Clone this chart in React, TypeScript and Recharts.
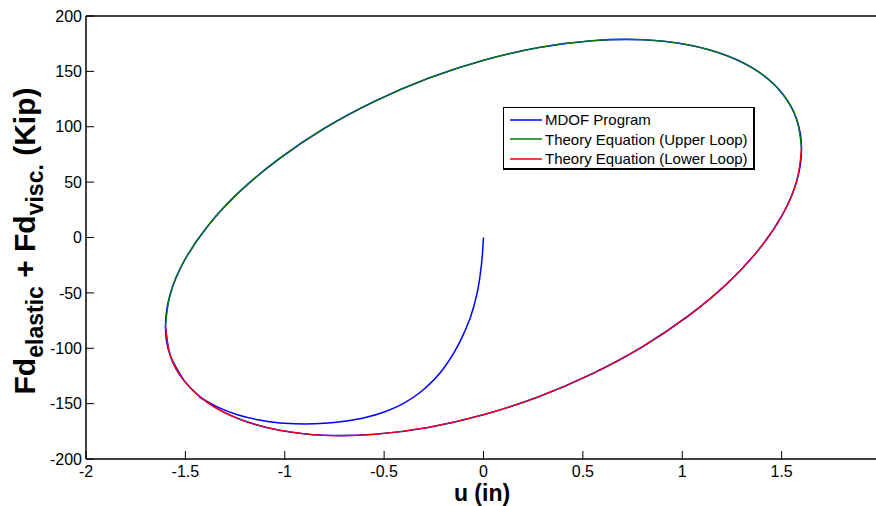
import React from "react";
import { LineChart, Line, XAxis, YAxis, Customized } from "recharts";

// displacement u (in) and force (kip)
const loopU = [-1.6, -1.576, -1.504, -1.386, -1.226, -1.028, -0.8, -0.547, -0.278, 0, 0.278, 0.547, 0.8, 1.028, 1.226, 1.386, 1.504, 1.576, 1.6];
const upperF = [-80, -51.0, -20.5, 10.7, 41.6, 71.1, 98.6, 123.0, 143.7, 160, 171.5, 177.7, 178.6, 174.0, 164.1, 149.3, 129.9, 106.6, 80];
const lowerF = [-80, -106.6, -129.9, -149.3, -164.1, -174.0, -178.6, -177.7, -171.5, -160, -143.7, -123.0, -98.6, -71.1, -41.6, -10.7, 20.5, 51.0, 80];

// start-up part of the MDOF program response (from the loop back to the origin)
const startU = [-1.43, -1.34, -1.23, -1.12, -1.0, -0.9, -0.8, -0.7, -0.6, -0.5, -0.4, -0.3, -0.2, -0.15, -0.1, -0.05, -0.02, -0.005, 0];
const startF = [-144, -153, -160.5, -165, -167.8, -168.3, -167.8, -166, -162.8, -157.5, -149.5, -137, -118, -104.5, -87, -63, -38, -14, 0];

const xTicks = [-2, -1.5, -1, -0.5, 0, 0.5, 1, 1.5, 2];
const yTicks = [-200, -150, -100, -50, 0, 50, 100, 150, 200];

const upperData = loopU.map((u, i) => ({ u, f: upperF[i] }));
const lowerData = loopU.map((u, i) => ({ u, f: lowerF[i] }));
const mdofStart = startU.map((u, i) => ({ u, f: startF[i] }));
const mdofLoop = [
  ...lowerData.slice(0, 3).reverse(),
  ...upperData.slice(1),
  ...lowerData.slice(0, -1).reverse(),
];

const FONT = "'Liberation Sans', Arial, Helvetica, sans-serif";
const tickStyle = { fill: "#000", fontSize: 16, fontFamily: FONT };

const legendItems = [
  { name: "MDOF Program", color: "#0000ff" },
  { name: "Theory Equation (Upper Loop)", color: "#008000" },
  { name: "Theory Equation (Lower Loop)", color: "#ff0000" },
];

function LegendBox() {
  return (
    <div
      style={{
        position: "absolute",
        left: 503,
        top: 107,
        width: 252,
        height: 63,
        border: "1px solid #000",
        borderRightWidth: 2,
        borderBottomWidth: 2,
        background: "#fff",
        padding: "2px 0 0 5px",
        fontFamily: FONT,
        fontSize: 15,
        color: "#000",
        boxSizing: "border-box",
        whiteSpace: "nowrap",
      }}
    >
      {legendItems.map((it) => (
        <div key={it.name} style={{ display: "flex", alignItems: "center", height: 19.5 }}>
          <svg width={36} height={10}>
            <line x1={1} y1={5} x2={33} y2={5} stroke={it.color} strokeWidth={1.5} />
          </svg>
          <span>{it.name}</span>
        </div>
      ))}
    </div>
  );
}

function AxisLabels() {
  return (
    <g fontFamily={FONT} fontWeight="bold" fill="#000">
      <text x={482} y={501} fontSize={23} textAnchor="middle">
        u (in)
      </text>
      <text x={35} y={241} fontSize={30} textAnchor="middle" transform="rotate(-90, 35, 241)">
        Fd
        <tspan fontSize={23} dy={8}>elastic</tspan>
        <tspan dy={-8}> + Fd</tspan>
        <tspan fontSize={23} dy={8}>visc.</tspan>
        <tspan dy={-8}> (Kip)</tspan>
      </text>
    </g>
  );
}

const axisLine = { stroke: "#000", strokeWidth: 1.5 };
const tickLine = { stroke: "#000" };

export default function App() {
  return (
    <div style={{ position: "absolute", left: 0, top: 0, width: 876, height: 506, overflow: "hidden", background: "#fff" }}>
      <LineChart width={900} height={506} margin={{ top: 0, right: 0, bottom: 0, left: 0 }}>
        <XAxis
          dataKey="u"
          type="number"
          domain={[-2, 2]}
          ticks={xTicks}
          height={47}
          tickSize={-8}
          tickMargin={15}
          tick={tickStyle}
          axisLine={axisLine}
          tickLine={tickLine}
          allowDataOverflow
        />
        <XAxis
          xAxisId="top"
          orientation="top"
          type="number"
          domain={[-2, 2]}
          ticks={xTicks}
          height={16}
          tickSize={-8}
          tick={false}
          axisLine={axisLine}
          tickLine={tickLine}
        />
        <YAxis
          dataKey="f"
          type="number"
          domain={[-200, 200]}
          ticks={yTicks}
          width={86}
          tickSize={-8}
          tickMargin={12}
          tick={tickStyle}
          axisLine={axisLine}
          tickLine={tickLine}
          allowDataOverflow
        />
        <YAxis
          yAxisId="right"
          orientation="right"
          type="number"
          domain={[-200, 200]}
          ticks={yTicks}
          width={19}
          tickSize={-8}
          tick={false}
          axisLine={axisLine}
          tickLine={tickLine}
        />
        <Line data={mdofStart} dataKey="f" type="monotone" stroke="#0000ff" strokeWidth={1.5} dot={false} activeDot={false} isAnimationActive={false} />
        <Line data={mdofLoop} dataKey="f" type="natural" stroke="#0000ff" strokeWidth={1.6} dot={false} activeDot={false} isAnimationActive={false} />
        <Line data={upperData} dataKey="f" type="natural" stroke="#008000" strokeWidth={1.3} dot={false} activeDot={false} isAnimationActive={false} />
        <Line data={lowerData} dataKey="f" type="natural" stroke="#ff0000" strokeWidth={1.3} dot={false} activeDot={false} isAnimationActive={false} />
        <Customized component={<AxisLabels />} />
      </LineChart>
      <LegendBox />
    </div>
  );
}
